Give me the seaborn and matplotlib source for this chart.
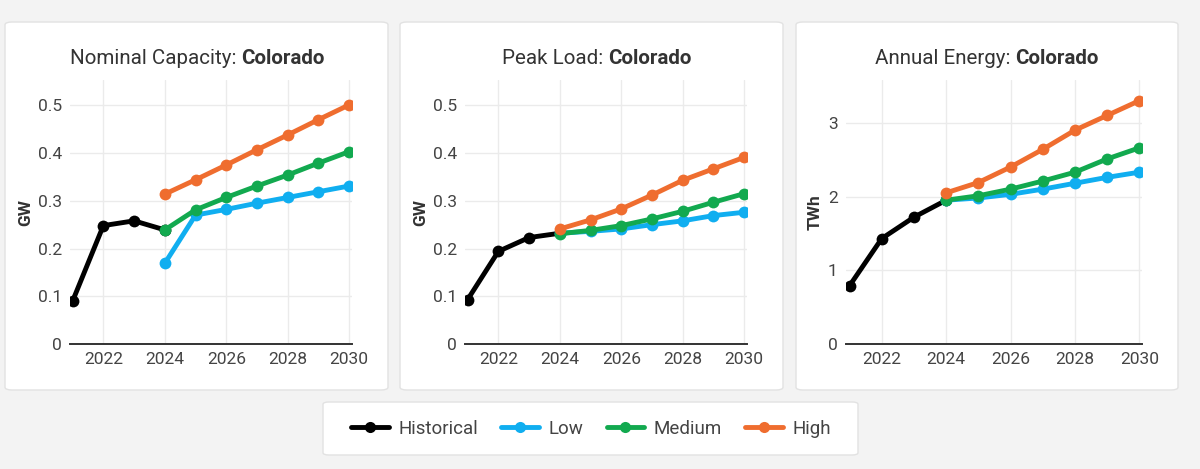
import matplotlib.pyplot as plt
import numpy as np
import pandas as pd
import seaborn as sns
from matplotlib.patches import FancyBboxPatch
from matplotlib.lines import Line2D

# ---- data ----
hist_years = [2021, 2022, 2023, 2024]
proj_years = [2024, 2025, 2026, 2027, 2028, 2029, 2030]

cap_hist = [0.090, 0.248, 0.258, 0.239]
cap_low = [0.169, 0.270, 0.282, 0.295, 0.307, 0.319, 0.331]
cap_med = [0.239, 0.281, 0.307, 0.331, 0.354, 0.379, 0.403]
cap_high = [0.314, 0.344, 0.375, 0.407, 0.438, 0.470, 0.501]

peak_hist = [0.093, 0.194, 0.223, 0.232]
peak_low = [0.232, 0.236, 0.241, 0.250, 0.258, 0.269, 0.276]
peak_med = [0.231, 0.238, 0.248, 0.262, 0.278, 0.297, 0.315]
peak_high = [0.241, 0.260, 0.283, 0.312, 0.343, 0.367, 0.391]

energy_hist = [0.79, 1.43, 1.72, 1.95]
energy_low = [1.95, 1.98, 2.03, 2.10, 2.18, 2.26, 2.33]
energy_med = [1.95, 2.01, 2.10, 2.21, 2.33, 2.51, 2.66]
energy_high = [2.05, 2.19, 2.40, 2.64, 2.90, 3.10, 3.30]

series_names = ["Historical", "Low", "Medium", "High"]
palette = {"Historical": "#000000", "Low": "#10aef0",
           "Medium": "#12a94f", "High": "#ef6d2f"}

x_ticks = [2022, 2024, 2026, 2028, 2030]
gw_ticks = [0, 0.1, 0.2, 0.3, 0.4, 0.5]
twh_ticks = [0, 1, 2, 3]

panels = [
    ("Nominal Capacity:", "GW", [cap_hist, cap_low, cap_med, cap_high], gw_ticks, 0.553),
    ("Peak Load:", "GW", [peak_hist, peak_low, peak_med, peak_high], gw_ticks, 0.553),
    ("Annual Energy:", "TWh", [energy_hist, energy_low, energy_med, energy_high], twh_ticks, 3.58),
]


def make_frame(vals):
    rows = []
    for name, v in zip(series_names, vals):
        yrs = hist_years if name == "Historical" else proj_years
        for yr, val in zip(yrs, v):
            rows.append({"year": yr, "value": val, "series": name})
    return pd.DataFrame(rows)


sns.set_theme(style="white")
plt.rcParams['font.family'] = ['Roboto', 'DejaVu Sans']

W, H = 1200, 469
fig = plt.figure(figsize=(12, 4.69), dpi=100)
fig.patch.set_facecolor("#f3f3f3")

# panel cards (pixel coords -> figure fraction)
cards = [(5, 22, 388, 390), (400, 22, 783, 390), (796, 22, 1178, 390)]
for x0, y0, x1, y1 in cards:
    fig.patches.append(FancyBboxPatch(
        (x0 / W, 1 - y1 / H), (x1 - x0) / W, (y1 - y0) / H,
        boxstyle="round,pad=0,rounding_size=0.006", transform=fig.transFigure,
        facecolor="white", edgecolor="#e2e2e2", linewidth=1, zorder=-5))

# axes placements in pixels: left, right, x-left-limit, x-right-limit
ax_px = [(70, 352, 2020.915, 2030.09), (465, 747, 2020.915, 2030.09),
         (846, 1142, 2020.89, 2030.08)]
title_split = [239, 606, 1013]
ylabel_x = [33, 428, 823]

for i, (title, unit, vals, yt, ytop) in enumerate(panels):
    l, r, xl, xr = ax_px[i]
    ax = fig.add_axes([l / W, 1 - 344 / H, (r - l) / W, (344 - 80) / H])
    ax.set_facecolor("white")
    df = make_frame(vals)
    sns.lineplot(data=df, x="year", y="value", hue="series", hue_order=series_names,
                 palette=palette, marker="o", markersize=8.5, markeredgewidth=0,
                 linewidth=3.5, legend=False, ax=ax, zorder=3)
    ax.set_xlim(xl, xr)
    ax.set_ylim(0, ytop)
    ax.set_xticks(x_ticks)
    ax.set_yticks(yt)
    ax.set_yticklabels([f"{t:g}" for t in yt])
    ax.grid(True, color="#ebebeb", linewidth=1)
    for s in ["top", "right", "left"]:
        ax.spines[s].set_visible(False)
    ax.spines["bottom"].set_color("#333333")
    ax.spines["bottom"].set_linewidth(1.4)
    ax.tick_params(length=0, labelsize=12.5, labelcolor="#444444", pad=6)
    ax.set_xlabel("")
    ax.set_ylabel(unit, fontsize=12.5, fontweight="bold", color="#333333")
    ax.yaxis.set_label_coords((ylabel_x[i] - l) / (r - l), 0.5)

    ty = 1 - 58 / H
    fig.text(title_split[i] / W - 0.002, ty, title, ha="right", va="center",
             fontsize=14.8, color="#333333")
    fig.text(title_split[i] / W + 0.002, ty, "Colorado", ha="left", va="center",
             fontsize=14.8, fontweight="bold", color="#333333")

# legend card
lx0, ly0, lx1, ly1 = 323, 402, 858, 455
fig.patches.append(FancyBboxPatch(
    (lx0 / W, 1 - ly1 / H), (lx1 - lx0) / W, (ly1 - ly0) / H,
    boxstyle="round,pad=0,rounding_size=0.005", transform=fig.transFigure,
    facecolor="white", edgecolor="#e2e2e2", linewidth=1, zorder=-5))

handles = [Line2D([0], [0], color=palette[n], lw=3.5, marker="o", markersize=8,
                  markeredgewidth=0) for n in series_names]
leg = fig.legend(handles, series_names, loc="center",
                 bbox_to_anchor=(591 / W, 1 - 428.5 / H), ncol=4, frameon=False,
                 fontsize=13.5, handlelength=2.0, handletextpad=0.5,
                 columnspacing=1.25, numpoints=1)
for t in leg.get_texts():
    t.set_color("#444444")

fig.savefig("out.png", dpi=100, facecolor=fig.get_facecolor())
